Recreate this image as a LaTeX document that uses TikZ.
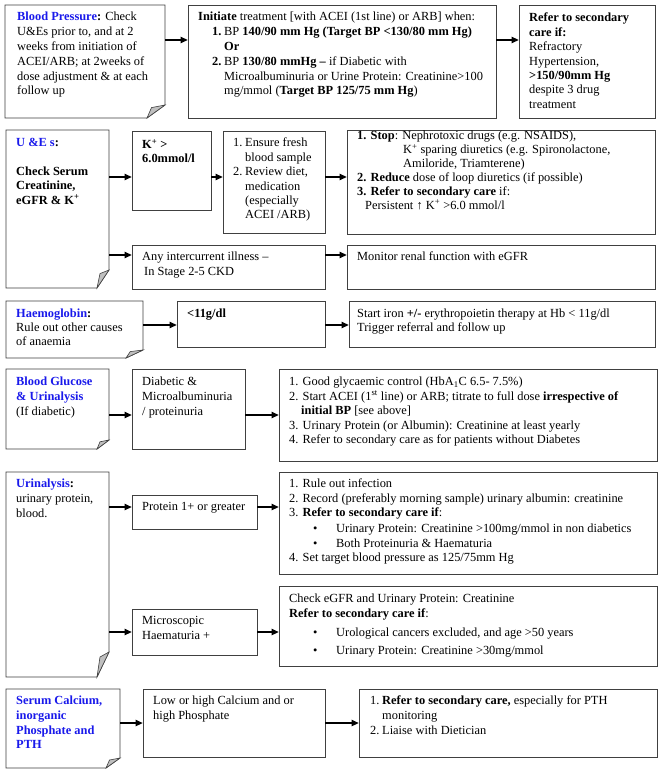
\documentclass[tikz,border=0pt]{standalone}
\usepackage{fontspec}
\setmainfont{Liberation Serif}
\usetikzlibrary{arrows.meta,fit}
\definecolor{hdblue}{RGB}{25,25,235}
\tikzset{
  box/.style={draw=black!75, line width=0.8pt, inner sep=0pt},
  anchorbox/.style={inner sep=0pt},
  txt/.style={anchor=north west, inner sep=0pt, align=left, font=\fontsize{12.4}{14.5}\selectfont},
  lsp/.style={font=\fontsize{12.4}{#1}\selectfont},
  arr/.style={line width=1.2pt, -{Triangle[length=7pt,width=6.5pt]}},
  flap/.style={fill=black!25, draw=black!75, line width=0.6pt},
}
\newcommand\FoldBox[7]{%
  \node[anchorbox, fit={(#2,#3)(#4,#5)}] (#1) {};
  \draw[box] (#2,#3) -- (#4,#3) -- (#4,{#5-#7}) -- ({#4-#6},#5) -- (#2,#5) -- cycle;
  \draw[flap] (#4,{#5-#7}) -- ({#4-0.75*#6},{#5-0.8*#7}) -- ({#4-#6},#5) -- cycle;
}
\newcommand\PlainBox[5]{\node[box, fit={(#2,#3)(#4,#5)}] (#1) {};}
\newcommand\bul{\hspace*{24pt}\makebox[23pt][l]{•}}
\begin{document}
\begin{tikzpicture}[x=1pt,y=-1pt]
\useasboundingbox[fill=white] (0,0) rectangle (664,775);
% ---------- boxes ----------
\FoldBox{bp}{5}{5}{165}{118}{18}{13}
\PlainBox{init}{188}{5}{496}{118}
\PlainBox{ref}{519}{5}{655}{118}
\FoldBox{ue}{6}{130}{109}{288}{12}{18}
\PlainBox{kp}{132}{131}{211}{210}
\PlainBox{ens}{223}{131}{325}{233}
\PlainBox{stop}{347}{130}{655}{234}
\PlainBox{inter}{132}{245}{325}{289}
\PlainBox{mon}{347}{245}{655}{289}
\FoldBox{hb}{6}{301}{143}{358}{17}{8}
\PlainBox{lt}{177}{301}{325}{347}
\PlainBox{iron}{349}{301}{655}{347}
\FoldBox{bg}{6}{369}{109}{449}{12}{9}
\PlainBox{dia}{132}{369}{245}{449}
\PlainBox{good}{279}{369}{657}{461}
\FoldBox{ua}{6}{472}{109}{677}{12}{25}
\PlainBox{prot}{132}{495}{257}{529}
\PlainBox{rule}{279}{472}{657}{574}
\PlainBox{mic}{132}{609}{257}{655}
\PlainBox{chk}{279}{586}{657}{666}
\FoldBox{sc}{6}{689}{120}{768}{14}{10}
\PlainBox{low}{143}{689}{325}{757}
\PlainBox{reftwo}{359}{689}{657}{757}
% ---------- connectors ----------
\draw[arr] (bp.east |- 0,40) -- (init.west |- 0,40);
\draw[arr] (init.east |- 0,40) -- (ref.west |- 0,40);
\draw[arr] (ue.east |- 0,177) -- (kp.west |- 0,177);
\draw[arr] (kp.east |- 0,177) -- (ens.west |- 0,177);
\draw[arr] (ens.east |- 0,177) -- (stop.west |- 0,177);
\draw[arr] (ue.east |- 0,255) -- (inter.west |- 0,255);
\draw[arr] (inter.east |- 0,255) -- (mon.west |- 0,255);
\draw[arr] (hb.east |- 0,325) -- (lt.west |- 0,325);
\draw[arr] (lt.east |- 0,325) -- (iron.west |- 0,325);
\draw[arr] (bg.east |- 0,415) -- (dia.west |- 0,415);
\draw[arr] (dia.east |- 0,415) -- (good.west |- 0,415);
\draw[arr] (ua.east |- 0,507) -- (prot.west |- 0,507);
\draw[arr] (prot.east |- 0,507) -- (rule.west |- 0,507);
\draw[arr] (ua.east |- 0,632) -- (mic.west |- 0,632);
\draw[arr] (mic.east |- 0,632) -- (chk.west |- 0,632);
\draw[arr] (sc.east |- 0,723) -- (low.west |- 0,723);
\draw[arr] (low.east |- 0,723) -- (reftwo.west |- 0,723);
% ---------- texts ----------
\node[txt, lsp=14.8] (tbp) at (17,12) {\textcolor{hdblue}{\textbf{Blood Pressure}}\textbf{:} Check\\U\&Es prior to, and at 2\\weeks from initiation of\\ACEI/ARB; at 2weeks of\\dose adjustment \& at each\\follow up};
\node[txt, lsp=14.8] (tinit) at (198,12) {\textbf{Initiate} treatment [with ACEI (1st line) or ARB] when:\\
\hspace*{14pt}\makebox[12pt][l]{\textbf{1.}}BP \textbf{140/90 mm Hg (Target BP <130/80 mm Hg)}\\
\hspace*{26pt}\textbf{Or}\\
\hspace*{14pt}\makebox[12pt][l]{\textbf{2.}}BP \textbf{130/80 mmHg –} if Diabetic with\\
\hspace*{26pt}Microalbuminuria or Urine Protein: Creatinine>100\\
\hspace*{26pt}mg/mmol (\textbf{Target BP 125/75 mm Hg})};
\node[txt, lsp=14.4] (tref) at (529,13) {\textbf{Refer to secondary}\\\textbf{care if:}\\Refractory\\Hypertension,\\\textbf{>150/90mm Hg}\\despite 3 drug\\treatment};
\node[txt, lsp=14.4] (tue) at (16,138) {\textcolor{hdblue}{\textbf{U \&E s}}\textbf{:}\\[14.4pt]\textbf{Check Serum}\\\textbf{Creatinine,}\\\textbf{eGFR \& K\textsuperscript{+}}};
\node[txt, lsp=14] (tkp) at (142,139) {\textbf{K\textsuperscript{+} >}\\\textbf{6.0mmol/l}};
\node[txt, lsp=14.4] (tens) at (233,138) {\makebox[12pt][l]{1.}Ensure fresh\\\hspace*{12pt}blood sample\\\makebox[12pt][l]{2.}Review diet,\\\hspace*{12pt}medication\\\hspace*{12pt}(especially\\\hspace*{12pt}ACEI /ARB)};
\node[txt, lsp=13.9] (tstop) at (357,131) {\textbf{1. Stop}: Nephrotoxic drugs (e.g. NSAIDS),\\\hspace*{46pt}K\textsuperscript{+} sparing diuretics (e.g. Spironolactone,\\\hspace*{46pt}Amiloride, Triamterene)\\\textbf{2. Reduce} dose of loop diuretics (if possible)\\\textbf{3. Refer to secondary care} if:\\\hspace*{8pt}Persistent ↑ K\textsuperscript{+} >6.0 mmol/l};
\node[txt] (tinter) at (142,252) {Any intercurrent illness –\\\hspace*{2pt}In Stage 2-5 CKD};
\node[txt] (tmon) at (357,252) {Monitor renal function with eGFR};
\node[txt, lsp=14] (thb) at (16,309) {\textcolor{hdblue}{\textbf{Haemoglobin}}\textbf{:}\\Rule out other causes\\of anaemia};
\node[txt] (tlt) at (187,309) {\textbf{<11g/dl}};
\node[txt, lsp=14] (tiron) at (357,309) {Start iron \textbf{+/-} erythropoietin therapy at Hb < 11g/dl\\Trigger referral and follow up};
\node[txt, lsp=15] (tbg) at (16,377) {\textcolor{hdblue}{\textbf{Blood Glucose}}\\\textcolor{hdblue}{\textbf{\& Urinalysis}}\\(If diabetic)};
\node[txt, lsp=15] (tdia) at (142,377) {Diabetic \&\\Microalbuminuria\\/ proteinuria};
\node[txt, lsp=14.5] (tgood) at (289,377) {1. Good glycaemic control (HbA\textsubscript{1}C 6.5- 7.5\%)\\2. Start ACEI (1\textsuperscript{st} line) or ARB; titrate to full dose \textbf{irrespective of}\\\hspace*{12pt}\textbf{initial BP} [see above]\\3. Urinary Protein (or Albumin): Creatinine at least yearly\\4. Refer to secondary care as for patients without Diabetes};
\node[txt, lsp=15] (tua) at (16,479) {\textcolor{hdblue}{\textbf{Urinalysis}}\textbf{:}\\urinary protein,\\blood.};
\node[txt] (tprot) at (142,502) {Protein 1+ or greater};
\node[txt, lsp=14.5] (trule) at (289,479) {1. Rule out infection\\2. Record (preferably morning sample) urinary albumin: creatinine\\3. \textbf{Refer to secondary care if}:\\[1.5pt]\bul Urinary Protein: Creatinine >100mg/mmol in non diabetics\\\bul Both Proteinuria \& Haematuria\\4. Set target blood pressure as 125/75mm Hg};
\node[txt, lsp=15] (tmic) at (142,616) {Microscopic\\Haematuria +};
\node[txt, lsp=14.5] (tchk) at (289,594) {Check eGFR and Urinary Protein: Creatinine\\\textbf{Refer to secondary care if}:\\[4.5pt]\bul Urological cancers excluded, and age >50 years\\[3.5pt]\bul Urinary Protein: Creatinine >30mg/mmol};
\node[txt, lsp=14.6] (tsc) at (16,696) {\textcolor{hdblue}{\textbf{Serum Calcium,}}\\\textcolor{hdblue}{\textbf{inorganic}}\\\textcolor{hdblue}{\textbf{Phosphate and}}\\\textcolor{hdblue}{\textbf{PTH}}};
\node[txt, lsp=15] (tlow) at (153,696) {Low or high Calcium and or\\high Phosphate};
\node[txt, lsp=14.6] (tref2) at (370,696) {\makebox[12pt][l]{1.}\textbf{Refer to secondary care,} especially for PTH\\\hspace*{12pt}monitoring\\\makebox[12pt][l]{2.}Liaise with Dietician};
\end{tikzpicture}
\end{document}
